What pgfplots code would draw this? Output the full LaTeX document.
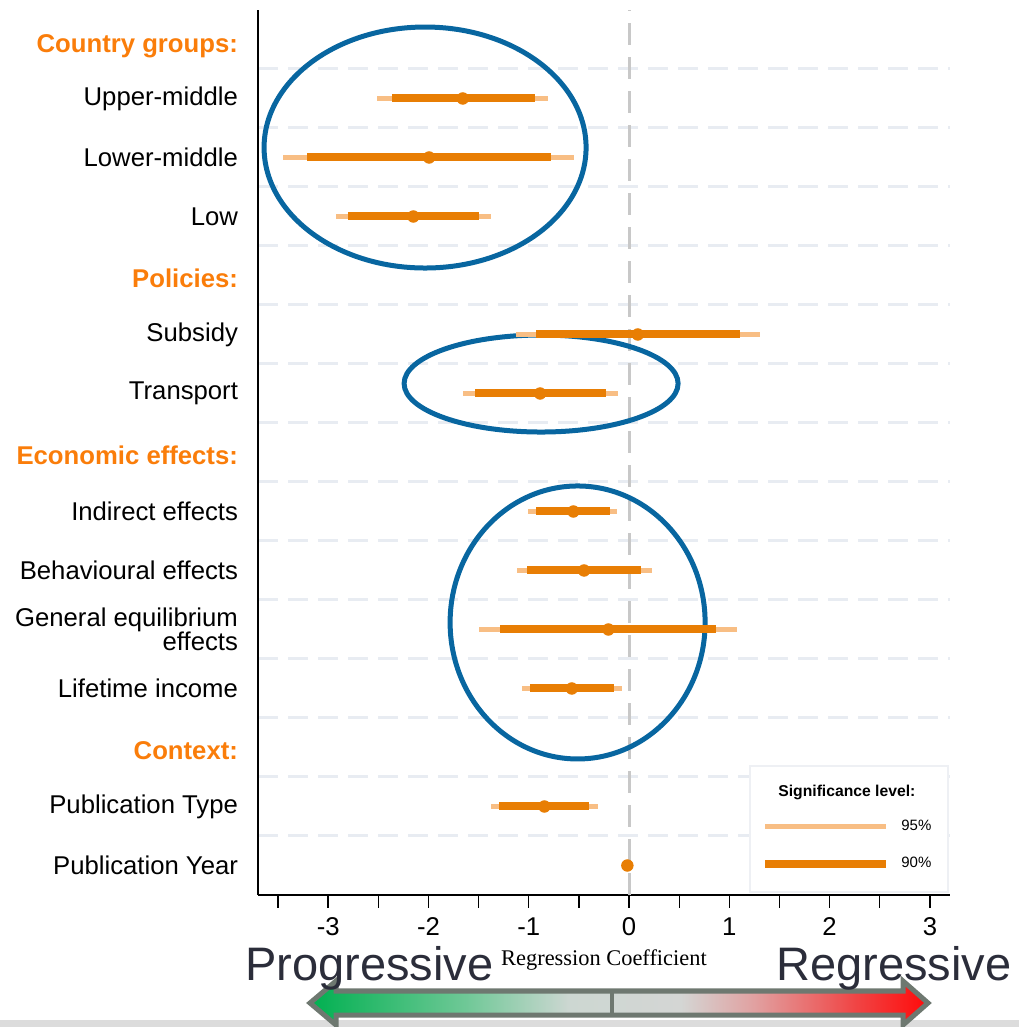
\documentclass[border=0pt]{standalone}
\usepackage{pgfplots}
\pgfplotsset{compat=1.18}
\usepackage{pgfplotstable}
\usepackage{fontspec}
\setmainfont{Liberation Sans}
\newfontfamily\serifcap{Liberation Serif}

\definecolor{ci90}{RGB}{232,126,4}
\definecolor{ci95}{RGB}{248,190,132}
\definecolor{header}{RGB}{250,125,10}
\definecolor{ring}{RGB}{8,102,160}
\definecolor{gridc}{RGB}{232,236,242}
\definecolor{zeroc}{RGB}{200,200,200}
\definecolor{legframe}{RGB}{238,240,244}
\definecolor{arrowline}{RGB}{110,120,112}
\definecolor{scaletext}{RGB}{43,45,58}
\definecolor{stripc}{RGB}{220,220,220}
\definecolor{sgA}{RGB}{0,176,80}
\definecolor{sgB}{RGB}{110,200,150}
\definecolor{sgC}{RGB}{205,215,210}
\definecolor{sgD}{RGB}{212,214,212}
\definecolor{sgE}{RGB}{225,160,160}
\definecolor{sgF}{RGB}{240,70,70}
\definecolor{sgG}{RGB}{255,10,10}

\pgfdeclarehorizontalshading{scaleshade}{100bp}{%
  color(0bp)=(sgA); color(25bp)=(sgA); color(37.5bp)=(sgB);
  color(46bp)=(sgC); color(55bp)=(sgD); color(61bp)=(sgE);
  color(69bp)=(sgF); color(75bp)=(sgG); color(100bp)=(sgG)}

% coefficient estimates with 90% and 95% confidence bounds
\pgfplotstableread{
y    lo95    lo90    est     hi90    hi95
-1   -2.510  -2.366  -1.658  -0.937  -0.805
-2   -3.447  -3.213  -1.994  -0.778  -0.545
-3   -2.921  -2.799  -2.151  -1.496  -1.376
-5   -1.127  -0.930   0.087   1.107   1.306
-6   -1.658  -1.535  -0.887  -0.232  -0.113
-8   -1.004  -0.927  -0.555  -0.189  -0.123
-9   -1.120  -1.020  -0.449   0.117   0.226
-10  -1.496  -1.286  -0.206   0.867   1.080
-11  -1.070  -0.987  -0.571  -0.150  -0.073
-13  -1.379  -1.293  -0.844  -0.396  -0.312
-14  -0.017  -0.017  -0.017  -0.017  -0.017
}\coefs

\newcommand{\lblfont}{\fontsize{12.85}{12}\selectfont}
% section headings sit a little below their row
\newcommand{\hdr}[2][-1.5pt]{\raisebox{#1}[\height][\depth]{\textcolor{header}{\bfseries #2}}}

\begin{document}
\begin{tikzpicture}
\path[use as bounding box] (-129pt,-66pt) rectangle (380.5pt,447.5pt);

\begin{axis}[
  scale only axis, width=346pt, height=442.5pt,
  at={(0,0)}, anchor=south west,
  xmin=-3.7, xmax=3.2, ymin=-14.5, ymax=0.5,
  axis x line*=bottom, axis y line*=left,
  axis line style={line width=1pt, black},
  xtick={-3,...,3}, xticklabels={-3,-2,-1,0,1,2,3},
  minor xtick={-3.5,-2.5,...,2.5},
  tick align=outside, major tick length=6.5pt, minor tick length=6.5pt,
  every x tick/.style={line width=0.7pt, black},
  every y tick/.style={draw=none},
  ytick={-14,...,0},
  yticklabels={{Publication Year},{Publication Type},{\hdr{Context:}},
    {Lifetime income},{General equilibrium\\effects},{Behavioural effects},
    {Indirect effects},{\hdr{Economic effects:}},{Transport},{Subsidy},
    {\hdr{Policies:}},{Low},{Lower-middle},{Upper-middle},{\hdr[-3.5pt]{Country groups:}}},
  minor ytick={-13.5,-12.5,...,-0.5},
  yminorgrids,
  minor y grid style={gridc, line width=1.5pt, dash pattern=on 10pt off 5pt},
  ticklabel style={font=\lblfont},
  xticklabel style={yshift=-3.5pt, inner sep=1pt},
  yticklabel style={align=right},
  xlabel={Regression Coefficient},
  xlabel style={font=\serifcap\fontsize{11.2}{13}\selectfont,
    at={(axis description cs:0.5,0)}, anchor=base, yshift=-35pt},
  legend style={at={(rel axis cs:0.7269,0.056)}, anchor=west,
    draw=none, fill=none, font=\fontsize{7.5}{9}\selectfont,
    row sep=12pt, column sep=5.5pt, inner sep=0pt, nodes={inner sep=0pt}},
  legend cell align=left,
]

% zero reference
\draw[zeroc, line width=1.5pt, dash pattern=on 11pt off 6pt] (0,-14.5) -- (0,0.5);

% highlighted groups
\draw[ring, line width=2.5pt] (-2.034,-1.831) ellipse [x radius=80.5pt, y radius=60.25pt];
\draw[ring, line width=2.5pt] (-0.877,-5.831) ellipse [x radius=68.5pt, y radius=24.25pt];
\draw[ring, line width=2.5pt] (-0.513,-9.881) ellipse [x radius=63.75pt, y radius=68.25pt];

% 95% intervals
\addplot[forget plot, only marks, mark=none,
  error bars/.cd, x dir=both, x explicit, error mark=none,
  error bar style={line width=2.3pt, ci95}]
  table[x=est, y=y,
    x error plus expr=\thisrow{hi95}-\thisrow{est},
    x error minus expr=\thisrow{est}-\thisrow{lo95}]{\coefs};
% 90% intervals
\addplot[forget plot, only marks, mark=none,
  error bars/.cd, x dir=both, x explicit, error mark=none,
  error bar style={line width=4pt, ci90}]
  table[x=est, y=y,
    x error plus expr=\thisrow{hi90}-\thisrow{est},
    x error minus expr=\thisrow{est}-\thisrow{lo90}]{\coefs};
% point estimates
\addplot[forget plot, only marks, mark=*, mark size=2.9pt, ci90,
  mark options={draw=ci90, fill=ci90}]
  table[x=est, y=y]{\coefs};

% legend frame and heading
\draw[legframe, line width=1pt, fill=white]
  (rel axis cs:0.711,0.003) rectangle (rel axis cs:0.997,0.146);
\node[font=\bfseries\fontsize{7.85}{9}\selectfont]
  at (rel axis cs:0.851,0.1156) {Significance level:};

\addlegendimage{legend image code/.code={\draw[ci95, line width=2.3pt] (0pt,0pt) -- (60.5pt,0pt);}}
\addlegendentry{95\%}
\addlegendimage{legend image code/.code={\draw[ci90, line width=4pt] (0pt,0pt) -- (60.5pt,0pt);}}
\addlegendentry{90\%}
\end{axis}

\begin{scope}[shift={(-129pt,447.5pt)}, x=0.5pt, y=-0.5pt]
  \fill[stripc] (0,1020) rectangle (1019,1027);
  % progressive / regressive scale arrow
  \shade[shading=scaleshade]
    (310,1003) -- (336,981) -- (336,991) -- (903,991) -- (903,981)
    -- (928,1003) -- (903,1025) -- (903,1015) -- (336,1015) -- (336,1025) -- cycle;
  \draw[arrowline, line width=2.5pt, line join=miter]
    (310,1003) -- (336,981) -- (336,991) -- (903,991) -- (903,981)
    -- (928,1003) -- (903,1025) -- (903,1015) -- (336,1015) -- (336,1025) -- cycle;
  \draw[arrowline, line width=2pt] (612,991) -- (612,1015);
  \node[anchor=base west, inner sep=0pt, text=scaletext,
    font=\fontsize{23.5}{28}\selectfont] at (245,980) {Progressive};
  \node[anchor=base east, inner sep=0pt, text=scaletext,
    font=\fontsize{23.5}{28}\selectfont] at (1012,980) {Regressive};
\end{scope}
\end{tikzpicture}
\end{document}
